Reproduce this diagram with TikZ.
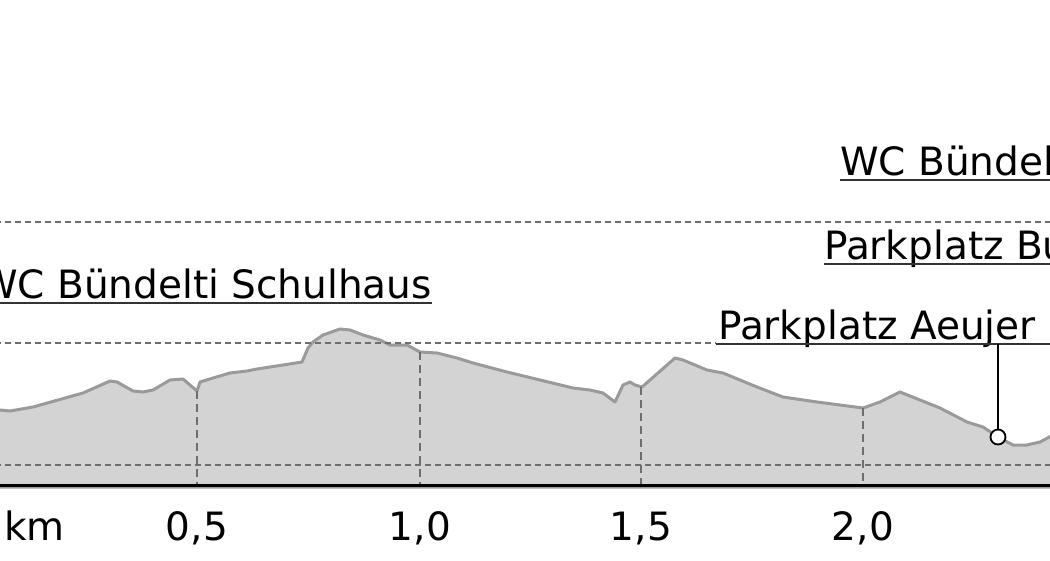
\documentclass[tikz,border=0pt]{standalone}
\usepackage{fontspec}
\setmainfont{DejaVu Sans}
\definecolor{pfill}{HTML}{D3D3D3}
\definecolor{pline}{HTML}{9A9A9A}
\definecolor{gridc}{HTML}{6E6E6E}
\definecolor{ulc}{HTML}{333333}
\begin{document}
\begin{tikzpicture}[x=1pt,y=-1pt,
  grid/.style={draw=gridc, line width=1.5pt, dash pattern=on 6pt off 4pt},
  vgrid/.style={draw=gridc, line width=1.5pt, dash pattern=on 8pt off 5pt},
  prof/.style={draw=pline, fill=pfill, line width=3pt, line join=round},
  lbl/.style={inner sep=0pt, anchor=base west, text depth=4.5pt, fill=white, text=black, font=\fontsize{39}{47}\selectfont},
  ticklbl/.style={inner sep=0pt, anchor=base, text=black, font=\fontsize{39}{47}\selectfont},
  ul/.style={draw=ulc, line width=2pt},
  conn/.style={draw=black, line width=2pt},
  stopmark/.style={circle, draw=black, fill=white, line width=1.8pt, minimum size=15pt, inner sep=0pt}
]
\useasboundingbox (0,0) rectangle (1050,560);
\fill[white] (0,0) rectangle (1050,560);
\coordinate (leftedge) at (-5,0);
\coordinate (rightedge) at (1055,0);
% elevation profile
\draw[prof] (-5,487) -- (-5,410) -- (0,410) -- (10,411) -- (33,407) -- (83,393) -- (110,381) -- (117,382) -- (133,391) -- (143,392) -- (153,390) -- (170,380) -- (183,379) -- (197,391) -- (200,382) -- (213,378) -- (230,373) -- (247,371) -- (257,369) -- (283,365) -- (302,362) -- (308,348) -- (313,342) -- (323,335) -- (340,329) -- (350,330) -- (363,335) -- (380,340) -- (390,345) -- (407,345) -- (420,352) -- (437,353) -- (457,358) -- (473,363) -- (507,372) -- (540,380) -- (573,388) -- (590,390) -- (603,393) -- (615,402) -- (623,385) -- (630,382) -- (635,385) -- (642,387) -- (650,380) -- (675,358) -- (683,360) -- (707,370) -- (723,373) -- (757,387) -- (783,397) -- (817,402) -- (840,405) -- (863,408) -- (880,402) -- (900,392) -- (920,400) -- (940,408) -- (967,422) -- (983,427) -- (998,437) -- (1013,445) -- (1027,445) -- (1040,442) -- (1055,434) -- (1055,487) -- cycle;
% horizontal grid lines
\draw[grid] (leftedge |- 0,222) -- (rightedge |- 0,222);
\draw[grid] (leftedge |- 0,343) -- (716,343);
\draw[grid] (leftedge |- 0,465) -- (rightedge |- 0,465);
% vertical grid lines
\coordinate (base) at (0,485.5);
\coordinate (p05) at (197,391);
\coordinate (p10) at (420,352);
\coordinate (p15) at (641,387);
\coordinate (p20) at (863,408);
\draw[vgrid] (p05) -- (p05 |- base);
\draw[vgrid] (p10) -- (p10 |- base);
\draw[vgrid] (p15) -- (p15 |- base);
\draw[vgrid] (p20) -- (p20 |- base);
% axis
\draw[black, line width=2.5pt] (leftedge |- base) -- (rightedge |- base);
\node[ticklbl, anchor=base west] (km) at (4,540.5) {km};
\node[ticklbl] (t05) at (197,540.5) {0,5};
\node[ticklbl] (t10) at (420,540.5) {1,0};
\node[ticklbl] (t15) at (641,540.5) {1,5};
\node[ticklbl] (t20) at (863,540.5) {2,0};
% labels
\node[lbl, anchor=base east] (wcs) at (432,298) {WC Bündelti Schulhaus};
\draw[ul] (wcs.south west) -- (wcs.south east);
\node[lbl] (wcb) at (840,175) {WC Bündel};
\draw[ul] (wcb.south west) -- (wcb.south west -| rightedge);
\node[lbl] (pb) at (824,259) {Parkplatz Bu};
\draw[ul] (pb.south west) -- (pb.south west -| rightedge);
\node[lbl] (pa) at (718,339.5) {Parkplatz Aeujer};
\draw[ul] (pa.south west) ++(-2,0) -- (pa.south west -| rightedge);
\coordinate (paj) at (998,344);
\node[stopmark] (stop) at (998,437) {};
\draw[conn] (paj) -- (stop.north);
\end{tikzpicture}
\end{document}
